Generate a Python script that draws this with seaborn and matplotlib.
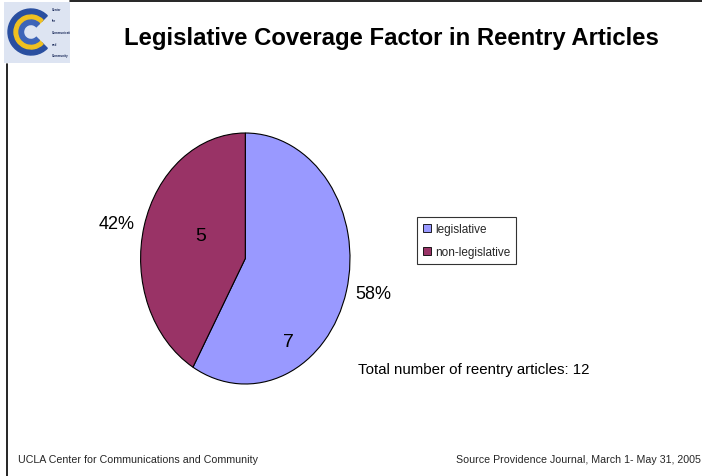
import matplotlib
matplotlib.use("Agg")
import matplotlib.pyplot as plt
import matplotlib.patches as mpatches
import seaborn as sns

# Article counts by coverage type
categories = ["legislative", "non-legislative"]
counts = [7, 5]
colors = ["#9999FF", "#993366"]
title = "Legislative Coverage Factor in Reentry Articles"
footer_left = "UCLA Center for Communications and Community"
footer_right = "Source Providence Journal, March 1- May 31, 2005"

sns.set_theme(style="white")
plt.rcParams["font.family"] = ["Liberation Sans", "DejaVu Sans"]

W, H = 702, 477
fig = plt.figure(figsize=(W / 100, H / 100), dpi=100)
fig.patch.set_facecolor("white")


def fx(x):
    return x / W


def fy(y):
    return 1 - y / H


# Frame lines
fig.add_artist(plt.Line2D([fx(70), fx(702)], [fy(1.5), fy(1.5)], color="black", lw=1.2))
fig.add_artist(plt.Line2D([fx(7), fx(7)], [fy(65), fy(477)], color="black", lw=1.2))

# Logo
lax = fig.add_axes([fx(4), fy(64), fx(66), 61 / H])
lax.set_xlim(0, 66)
lax.set_ylim(0, 61)
lax.axis("off")
lax.add_patch(mpatches.Rectangle((0, 0), 66, 61, color="#dde4f2"))
for r, w, c in [(23, 8, "#2a4fa0"), (17, 5, "#f0c020"), (12, 4.5, "#3d64b8")]:
    lax.add_patch(mpatches.Wedge((27, 31), r, 45, 315, width=w, color=c))
for i, word in enumerate(["Center", "for", "Communications", "and", "Community"]):
    lax.text(48, 54 - i * 11.5, word, fontsize=2.2, color="#1a2a5a",
             fontweight="bold", ha="left", va="center", clip_on=True)

# Title
fig.text(fx(391), fy(38), title, fontsize=17.2, fontweight="bold",
         ha="center", va="center", color="black")

# Pie
cx, cy, rx, ry = 245.3, 259.5, 104.7, 125.5
ax = fig.add_axes([fx(cx - rx), fy(cy + ry), 2 * rx / W, 2 * ry / H])
total = sum(counts)
pct_labels = [f"{round(100 * c / total)}%" for c in counts]
wedges, texts = ax.pie(counts, colors=colors, startangle=90, counterclock=False,
                       labels=pct_labels, labeldistance=1.09,
                       wedgeprops=dict(edgecolor="black", linewidth=0.8),
                       textprops=dict(fontsize=13, color="black"))
ax.set_aspect("auto")
ax.set_xlim(-1, 1)
ax.set_ylim(-1, 1)
ax.axis("off")

# Count labels inside slices
count_pos = [(0.41, -0.66), (-0.43, 0.18)]
for (x, y), c in zip(count_pos, counts):
    ax.text(x, y, str(c), fontsize=14, ha="center", va="center", color="black")

# Legend
handles = [mpatches.Patch(facecolor=col, edgecolor="black", linewidth=0.6) for col in colors]
leg = fig.legend(handles, categories, loc="upper left",
                 bbox_to_anchor=(fx(417), fy(218)), frameon=True, fancybox=False,
                 fontsize=8.5, handlelength=0.7, handleheight=0.7, handletextpad=0.35,
                 borderpad=0.5, labelspacing=0.95, borderaxespad=0)
leg.get_frame().set_edgecolor("black")
leg.get_frame().set_linewidth(0.8)

# Total annotation
fig.text(fx(358), fy(370), f"Total number of reentry articles: {total}",
         fontsize=10.8, ha="left", va="center", color="black")

# Footer
fig.text(fx(18), fy(460), footer_left, fontsize=7.7, ha="left", va="center")
fig.text(fx(701), fy(460), footer_right, fontsize=7.7, ha="right", va="center")

fig.savefig("out.png", dpi=100, facecolor="white")
